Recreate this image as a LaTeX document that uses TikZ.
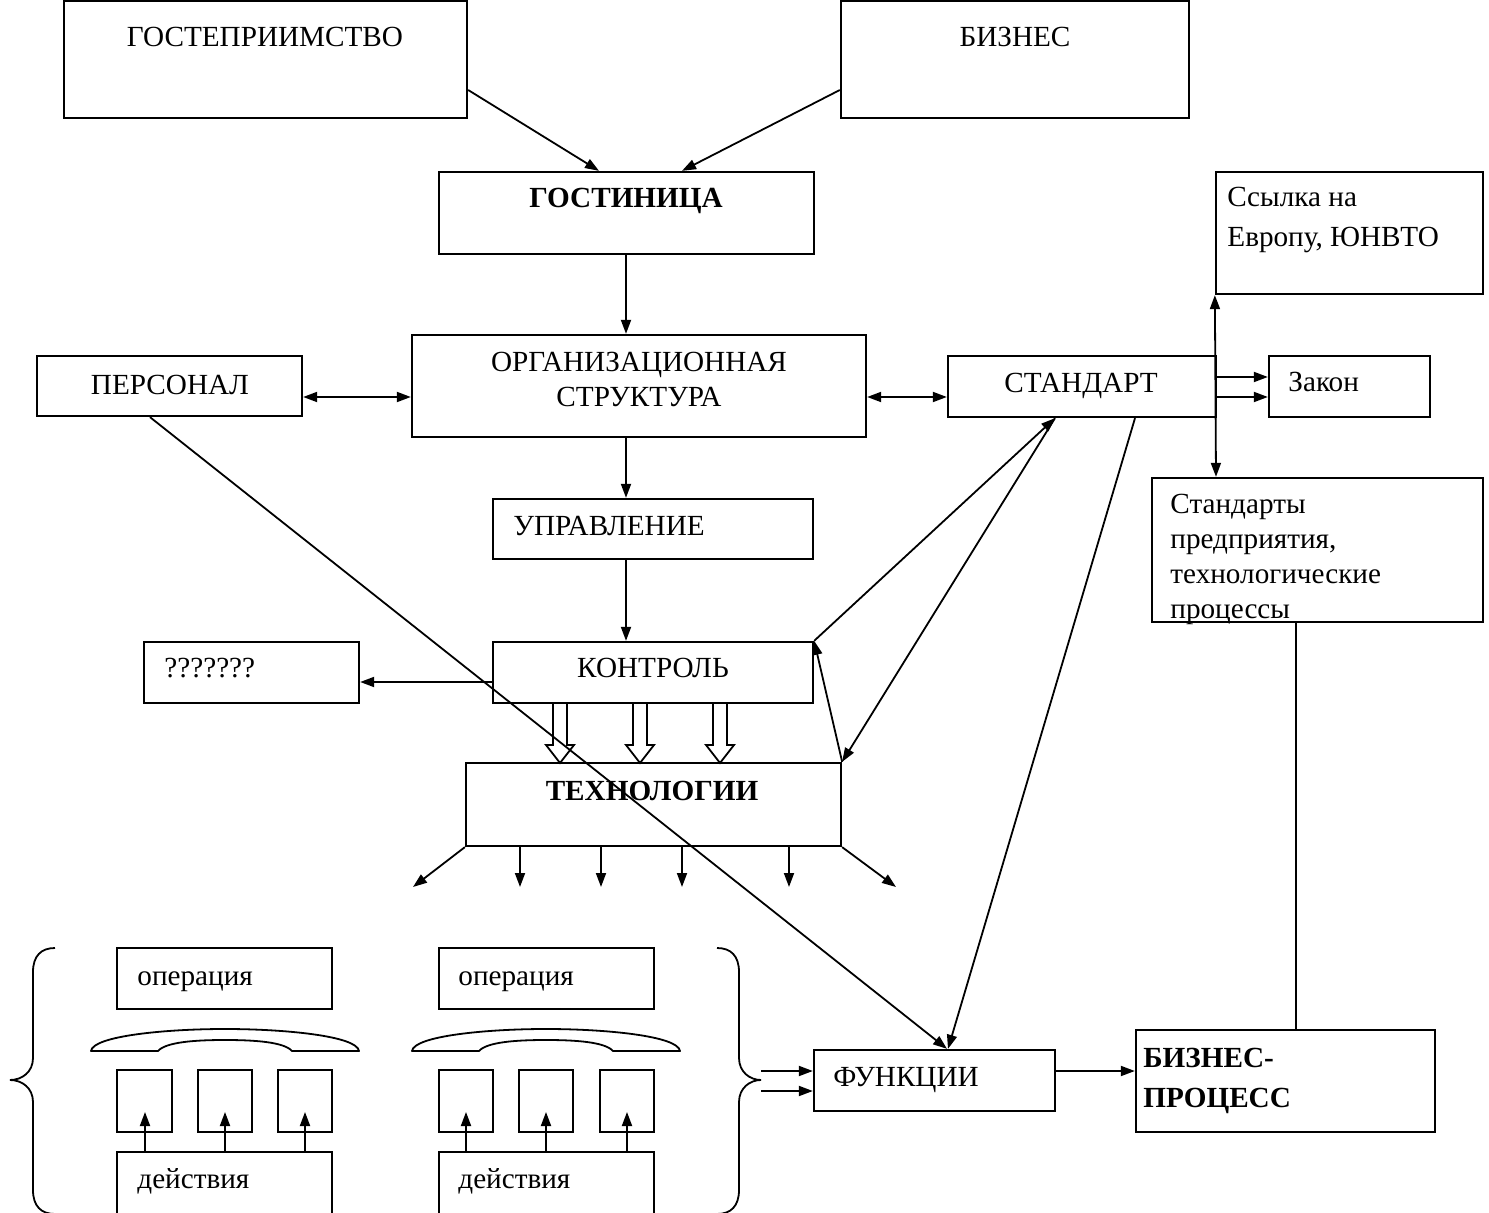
\documentclass[tikz,border=0pt]{standalone}
\usepackage{fontspec}
\setmainfont{Liberation Serif}
\usetikzlibrary{arrows.meta,fit,calc}
\begin{document}
\begin{tikzpicture}[x=0.5pt,y=-0.5pt,
  box/.style={draw,line width=1.15pt,inner sep=0pt},
  txt/.style={inner sep=0pt,font=\fontsize{14.6}{17.5}\selectfont},
  wtxt/.style={inner sep=0pt,font=\fontsize{14.6}{20}\selectfont},
  btxt/.style={inner sep=0pt,font=\fontsize{14.6}{20}\selectfont\bfseries},
  con/.style={line width=0.9pt},
  arr/.style={con,-{Triangle[length=7pt,width=5pt]}},
  darr/.style={con,{Triangle[length=7pt,width=5pt]}-{Triangle[length=7pt,width=5pt]}},
  hollow/.style={line width=0.9pt},
  brace/.style={line width=0.9pt}]
\useasboundingbox (0,0) rectangle (1489,1213);

% ---------- boxes ----------
\node[box,fit={(64,1)(467,118)}] (gostep) {};
\node[txt,anchor=base] (tgostep) at (265,47) {ГОСТЕПРИИМСТВО};
\node[box,fit={(841,1)(1189,118)}] (biz) {};
\node[txt,anchor=base] (tbiz) at (1015,47) {БИЗНЕС};
\node[box,fit={(439,172)(814,254)}] (hotel) {};
\node[btxt,anchor=base] (thotel) at (626,208) {ГОСТИНИЦА};
\node[box,fit={(1216,172)(1483,294)}] (ref) {};
\node[wtxt,anchor=base west,align=left] (tref) at (1227,247) {Ссылка на\\Европу, ЮНВТО};
\node[box,fit={(412,335)(866,437)}] (org) {};
\node[txt,anchor=base,align=center] (torg) at (639,407) {ОРГАНИЗАЦИОННАЯ\\СТРУКТУРА};
\node[box,fit={(37,356)(302,416)}] (pers) {};
\node[txt,anchor=base] (tpers) at (170,395) {ПЕРСОНАЛ};
\node[box,fit={(948,356)(1216,417)}] (std) {};
\node[txt,anchor=base] (tstd) at (1081,393) {СТАНДАРТ};
\node[box,fit={(1269,356)(1430,417)}] (law) {};
\node[txt,anchor=base west] (tlaw) at (1288,392) {Закон};
\node[box,fit={(493,499)(813,559)}] (mgmt) {};
\node[txt,anchor=base west] (tmgmt) at (513,536) {УПРАВЛЕНИЕ};
\node[box,fit={(1152,478)(1483,622)}] (ent) {};
\node[txt,anchor=base west,align=left] (tent) at (1170,619) {Стандарты\\предприятия,\\технологические\\процессы};
\node[box,fit={(144,642)(359,703)}] (q) {};
\node[txt,anchor=base west] (tq) at (164,678) {???????};
\node[box,fit={(493,642)(813,703)}] (ctrl) {};
\node[txt,anchor=base] (tctrl) at (653,678) {КОНТРОЛЬ};
\node[box,fit={(466,763)(841,846)}] (tech) {};
\node[btxt,anchor=base] (ttech) at (652,800) {ТЕХНОЛОГИИ};
\node[box,fit={(814,1050)(1055,1111)}] (func) {};
\node[txt,anchor=base west] (tfunc) at (833,1086) {ФУНКЦИИ};
\node[box,fit={(1136,1030)(1435,1132)}] (bp) {};
\node[btxt,anchor=base west,align=left] (tbp) at (1143,1107) {БИЗНЕС-\\ПРОЦЕСС};

% operation groups
\node[box,fit={(117,948)(332,1009)}] (op1) {};
\node[txt,anchor=base west] (top1) at (137,985) {операция};
\node[box,fit={(117,1070)(172,1132)}] (s11) {};
\node[box,fit={(198,1070)(252,1132)}] (s12) {};
\node[box,fit={(278,1070)(332,1132)}] (s13) {};
\node[box,fit={(117,1152)(332,1218)}] (act1) {};
\node[txt,anchor=base west] (tact1) at (137,1188) {действия};

\node[box,fit={(439,948)(654,1009)}] (op2) {};
\node[txt,anchor=base west] (top2) at (458,985) {операция};
\node[box,fit={(439,1070)(493,1132)}] (s21) {};
\node[box,fit={(519,1070)(573,1132)}] (s22) {};
\node[box,fit={(600,1070)(654,1132)}] (s23) {};
\node[box,fit={(439,1152)(654,1218)}] (act2) {};
\node[txt,anchor=base west] (tact2) at (458,1188) {действия};

% ---------- connectors ----------
\draw[arr] (gostep.east |- 0,90) -- (hotel.north -| 599,0);
\draw[arr] (biz.west |- 0,90) -- (hotel.north -| 682,0);
\draw[arr] (hotel.south -| 626,0) -- (org.north -| 626,0);
\draw[darr] (pers.east |- 0,397) -- (org.west |- 0,397);
\draw[darr] (org.east |- 0,397) -- (std.west |- 0,397);
\draw[arr] (org.south -| 626,0) -- (mgmt.north -| 626,0);
\draw[arr] (mgmt.south -| 626,0) -- (ctrl.north -| 626,0);
\draw[arr] (ctrl.west |- 0,682) -- (q.east |- 0,682);
\draw[darr] (ent.north -| 1216,0) -- (ref.south west);
\draw[arr] (std.east |- 0,377) -- (law.west |- 0,377);
\draw[arr] (std.east |- 0,397) -- (law.west |- 0,397);
\draw[arr] (ctrl.north east) -- (std.south -| 1055,0);
\draw[arr] (std.south -| 1055,0) -- (tech.north east);
\draw[arr] (tech.north east) -- (ctrl.north east);
\draw[arr] (std.south -| 1135,0) -- (func.north -| 948,0);
\draw[arr] (pers.south -| 150,0) -- (func.north -| 947,0);
\draw[arr] (func.east |- 0,1071) -- (bp.west |- 0,1071);
\draw[con] (ent.south -| 1296,0) -- (bp.north -| 1296,0);

% fan of arrows below ТЕХНОЛОГИИ
\coordinate (f1) at (413,887);
\coordinate (f2) at (520,887);
\coordinate (f3) at (601,887);
\coordinate (f4) at (682,887);
\coordinate (f5) at (789,887);
\coordinate (f6) at (896,887);
\draw[arr] (tech.south west) -- (f1);
\draw[arr] (tech.south -| f2) -- (f2);
\draw[arr] (tech.south -| f3) -- (f3);
\draw[arr] (tech.south -| f4) -- (f4);
\draw[arr] (tech.south -| f5) -- (f5);
\draw[arr] (tech.south east) -- (f6);

% hollow arrows КОНТРОЛЬ -> ТЕХНОЛОГИИ
\foreach \c in {560,640,720}{
  \draw[hollow,line join=miter] (\c-7,703) -- (\c-7,745) -- (\c-14,745) -- (\c,763) -- (\c+14,745) -- (\c+7,745) -- (\c+7,703);
}

% small arrows действия -> boxes
\foreach \x/\a in {145/act1,225/act1,305/act1,466/act2,546/act2,627/act2}{
  \draw[arr] (\a.north -| \x,0) -- (\x,1112);
}

% hats above the small boxes
\foreach \s in {0,321}{
\begin{scope}[shift={(\s,0)}]
  \draw[line width=0.9pt,line join=round]
    (91,1051) -- (158,1051)
    .. controls (166,1042) and (195,1040) .. (225,1040)
    .. controls (255,1040) and (284,1042) .. (292,1051)
    -- (359,1051)
    .. controls (357,1036) and (285,1029) .. (225,1029)
    .. controls (165,1029) and (93,1036) .. (91,1051) -- cycle;
\end{scope}
}

% braces
\draw[brace] (55,948) .. controls (41,948) and (33,956) .. (33,972) -- (33,1058)
  .. controls (33,1072) and (22,1080) .. (10,1080)
  .. controls (22,1080) and (33,1088) .. (33,1102) -- (33,1190)
  .. controls (33,1206) and (41,1214) .. (55,1214);
\draw[brace] (717,948) .. controls (731,948) and (739,956) .. (739,972) -- (739,1058)
  .. controls (739,1072) and (750,1080) .. (761,1080)
  .. controls (750,1080) and (739,1088) .. (739,1102) -- (739,1190)
  .. controls (739,1206) and (731,1214) .. (717,1214);

\coordinate (b1) at (761,1071);
\coordinate (b2) at (761,1091);
\draw[arr] (b1) -- (func.west |- b1);
\draw[arr] (b2) -- (func.west |- b2);
\end{tikzpicture}
\end{document}
